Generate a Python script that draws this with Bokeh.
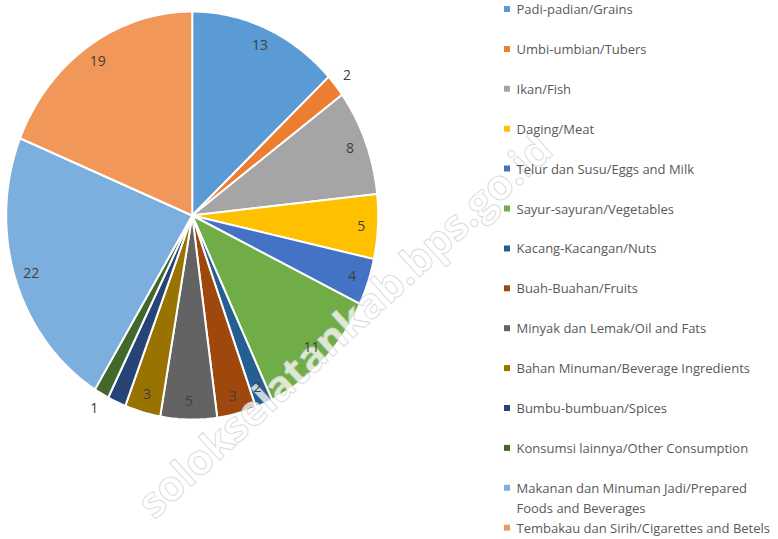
import numpy as np
from bokeh.plotting import figure
from bokeh.models import Range1d, Text
from bokeh.core.properties import value
from bokeh.embed import file_html
from bokeh.resources import INLINE

# ---- data ----
categories = [
    "Padi-padian/Grains",
    "Umbi-umbian/Tubers",
    "Ikan/Fish",
    "Daging/Meat",
    "Telur dan Susu/Eggs and Milk",
    "Sayur-sayuran/Vegetables",
    "Kacang-Kacangan/Nuts",
    "Buah-Buahan/Fruits",
    "Minyak dan Lemak/Oil and Fats",
    "Bahan Minuman/Beverage Ingredients",
    "Bumbu-bumbuan/Spices",
    "Konsumsi lainnya/Other Consumption",
    "Makanan dan Minuman Jadi/Prepared\nFoods and Beverages",
    "Tembakau dan Sirih/Cigarettes and Betels",
]
values = [13.1, 1.8, 8.4, 5.1, 3.7, 10.8, 1.5, 3.4, 4.9, 3.1, 1.6, 1.3, 22.4, 18.8]
colors = ["#5B9BD5", "#ED7D31", "#A5A5A5", "#FFC000", "#4472C4", "#70AD47",
          "#255E91", "#9E480E", "#636363", "#997300", "#264478", "#43682B",
          "#7CAFDD", "#F1975A"]
outside_labels = {"Umbi-umbian/Tubers", "Konsumsi lainnya/Other Consumption"}
watermark = "solokselatankab.bps.go.id"

# ---- layout (pixel space, y measured from top via H - y) ----
W, H = 778, 539
cx, cy = 191.7, H - 215.0
rx, ry = 186.0, 204.0

p = figure(width=W, height=H, output_backend="svg", toolbar_location=None,
           x_range=Range1d(0, W), y_range=Range1d(0, H), min_border=0)
p.axis.visible = False
p.grid.visible = False
p.outline_line_color = None
p.background_fill_color = "white"
p.border_fill_color = "white"

vals = np.array(values, dtype=float)
frac = vals / vals.sum()
ends = np.cumsum(frac)
starts = ends - frac

xs, ys = [], []
for s, e in zip(starts, ends):
    t = np.linspace(s, e, max(4, int((e - s) * 360))) * 2 * np.pi
    xs.append([cx] + list(cx + rx * np.sin(t)))
    ys.append([cy] + list(cy + ry * np.cos(t)))
p.patches(xs, ys, fill_color=colors, line_color="white", line_width=2)

# watermark (behind the labels)
wm_kwargs = dict(text_align="center", text_baseline="middle",
                 text_font=value("Open Sans"), text_font_size="42px",
                 text_font_style="bold", text_color="white", text_alpha=0.75,
                 angle=42.5, angle_units="deg")
if "text_outline_color" in Text.properties():
    wm_kwargs["text_outline_color"] = "#d0d0d0"
p.text(x=[343], y=[H - 324], text=[watermark], **wm_kwargs)

# data labels
lx, ly, lt = [], [], []
for cat, v, s, e in zip(categories, values, starts, ends):
    m = (s + e) / 2 * 2 * np.pi
    k = 1.08 if cat in outside_labels else 0.91
    lx.append(cx + k * rx * np.sin(m))
    ly.append(cy + k * ry * np.cos(m))
    lt.append(str(int(round(v))))
p.text(x=lx, y=ly, text=lt, text_align="center", text_baseline="middle",
       text_font=value("Open Sans"), text_font_size="14px", text_color="#404040")

# legend
leg_x_sq = 506.5
leg_x_tx = 516
top_y = H - 8.5
step = 39.9
line_h = 20
sq_x, sq_y, tx_x, tx_y, tx_t = [], [], [], [], []
for i, cat in enumerate(categories):
    yy = top_y - i * step
    sq_x.append(leg_x_sq)
    sq_y.append(yy)
    for j, line in enumerate(cat.split("\n")):
        tx_x.append(leg_x_tx)
        tx_y.append(yy - j * line_h)
        tx_t.append(line)
p.scatter(x=sq_x, y=sq_y, marker="square", size=6, fill_color=colors, line_color=None)
p.text(x=tx_x, y=tx_y, text=tx_t, text_align="left", text_baseline="middle",
       text_font=value("Open Sans"), text_font_size="13px", text_color="#595959")

open("out.html", "w").write(file_html(p, INLINE))
